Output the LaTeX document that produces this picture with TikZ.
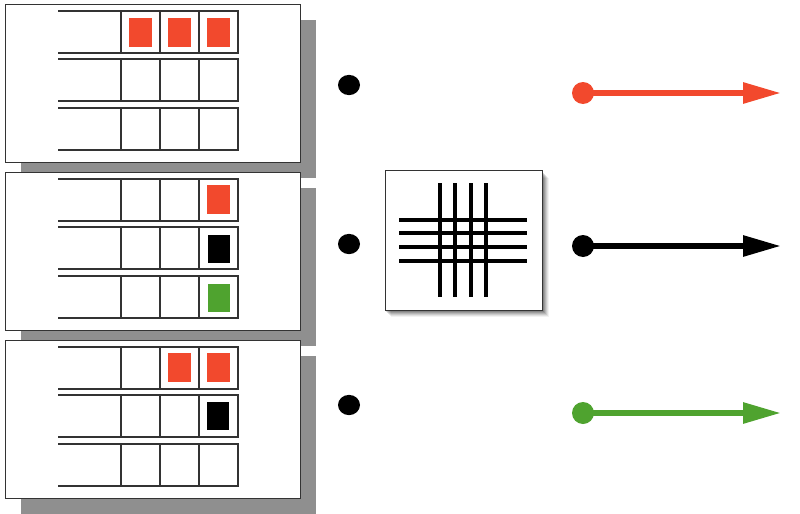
\documentclass[tikz,border=0pt]{standalone}
\usetikzlibrary{arrows.meta}
\definecolor{sigred}{HTML}{F2492D}
\definecolor{siggreen}{HTML}{4FA32F}
\definecolor{shadowgray}{HTML}{8F8F8F}
\definecolor{framegray}{HTML}{333333}
\tikzset{
  panelbox/.style={draw=framegray, line width=1.1pt, fill=white, minimum width=221.25pt, minimum height=118.5pt, inner sep=0pt, anchor=north west},
  tbl/.style={draw=framegray, line width=1.4pt, line cap=rect},
  switchbox/.style={draw=framegray, line width=0.9pt, fill=white, minimum width=117.75pt, minimum height=105pt, inner sep=0pt, anchor=north west},
  gridline/.style={line width=3pt, black},
  bigdot/.style={circle, fill=black, minimum width=16.5pt, inner sep=0pt, yscale=0.92},
  startdot/.style={circle, minimum size=16.5pt, inner sep=0pt},
  sigarrow/.style={line width=4.4pt, -{Triangle[length=28.5pt,width=15pt]}}
}
\begin{document}
\begin{tikzpicture}[x=0.75pt,y=-0.75pt]
\useasboundingbox[fill=white] (0,0) rectangle (800,514);
% panels with shadows and tables
\foreach \T/\n in {4/1,172/2,340/3} {
  \fill[shadowgray] (21,\T+16) rectangle (316,\T+174);
  \node[panelbox] (panel\n) at (5,\T) {};
  \foreach \r in {7,55,104} {
    \draw[tbl] (59,\T+\r) -- (238,\T+\r) (59,\T+\r+42) -- (238,\T+\r+42);
    \foreach \x in {121,160,199,238}
      \draw[tbl] (\x,\T+\r) -- (\x,\T+\r+42);
  }
}
% coloured cells, panel 1
\fill[sigred] (129,18) rectangle +(23,29);
\fill[sigred] (168,18) rectangle +(23,29);
\fill[sigred] (207,18) rectangle +(23,29);
% panel 2
\fill[sigred] (207,185) rectangle +(23,29);
\fill[black] (208,235) rectangle +(22,28);
\fill[siggreen] (208,284) rectangle +(22,28);
% panel 3
\fill[sigred] (168,353) rectangle +(23,29);
\fill[sigred] (207,353) rectangle +(23,29);
\fill[black] (207,402) rectangle +(22,28);
% input dots
\node[bigdot] (in1) at (349,85) {};
\node[bigdot] (in2) at (349,244) {};
\node[bigdot] (in3) at (349,405) {};
% switch box with soft shadow
\foreach \o/\a in {7/0.05,6/0.07,5/0.09,4/0.11,3/0.13,2/0.15} {
  \fill[black, opacity=\a] (385+\o-1,170+\o+1) rectangle (542+\o,310+\o);
}
\node[switchbox] (switch) at (385,170) {};
\foreach \x in {440,455,471,486}
  \draw[gridline] (\x,183) -- (\x,297);
\foreach \y in {220,233,247,261}
  \draw[gridline] (399,\y) -- (527,\y);
% output arrows
\node[startdot, fill=sigred] (out1) at (583,93) {};
\node[startdot, fill=black] (out2) at (583,246) {};
\node[startdot, fill=siggreen] (out3) at (583,413) {};
\coordinate (end1) at (781,94);
\coordinate (end2) at (781,248);
\coordinate (end3) at (781,416);
\draw[sigarrow, sigred] (out1.center) -- (out1.center -| end1);
\draw[sigarrow, black] (out2.center) -- (out2.center -| end2);
\draw[sigarrow, siggreen] (out3.center) -- (out3.center -| end3);
\end{tikzpicture}
\end{document}
